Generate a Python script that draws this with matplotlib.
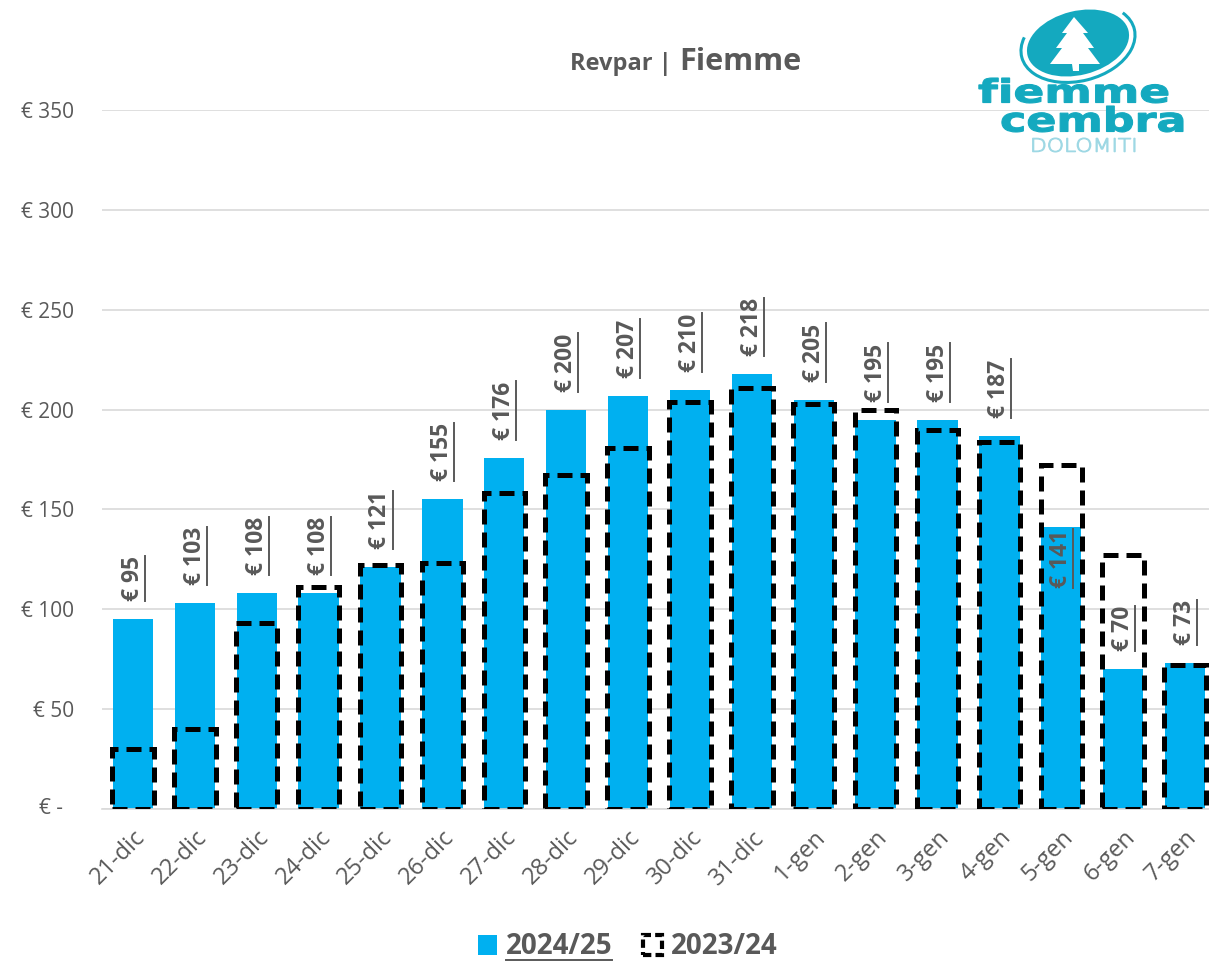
import matplotlib
matplotlib.use("Agg")
import matplotlib.pyplot as plt
from matplotlib.patches import Patch, Ellipse, Polygon, Arc, PathPatch
from matplotlib.lines import Line2D
from matplotlib.textpath import TextPath
from matplotlib.font_manager import FontProperties
from matplotlib.path import Path
import numpy as np

categories = ["21-dic", "22-dic", "23-dic", "24-dic", "25-dic", "26-dic", "27-dic", "28-dic",
              "29-dic", "30-dic", "31-dic", "1-gen", "2-gen", "3-gen", "4-gen", "5-gen",
              "6-gen", "7-gen"]
revpar_2425 = [95, 103, 108, 108, 121, 155, 176, 200, 207, 210, 218, 205, 195, 195, 187, 141, 70, 73]
revpar_2324 = [30, 40, 93, 111, 122, 123, 158, 167, 181, 204, 211, 203, 200, 190, 184, 172, 127, 72]
label_inside = [False] * 15 + [True, False, False]
yticks = [0, 50, 100, 150, 200, 250, 300, 350]
ytick_labels = ["", "€ 50", "€ 100", "€ 150", "€ 200", "€ 250", "€ 300", "€ 350"]
zero_label = "€ -"
series_names = ["2024/25", "2023/24"]

BLUE = "#00B0F0"
GRAY = "#595959"
TEAL = "#14A9BF"
plt.rcParams['font.family'] = ['Open Sans', 'DejaVu Sans']

fig = plt.figure(figsize=(12.09, 9.66), dpi=100)
ax = fig.add_axes([102/1209, (966-809)/966, 1114/1209, 699/966])

x = np.arange(len(categories))
ax.bar(x, revpar_2425, width=0.65, color=BLUE, zorder=2)
ax.bar(x, revpar_2324, width=0.67, facecolor="none", edgecolor="black",
       linewidth=3.6, linestyle=(0, (3, 1.6)), zorder=3)

ax.set_xlim(-0.5, len(categories) - 0.5)
ax.set_ylim(0, 350)
ax.set_yticks(yticks)
ax.set_yticklabels(ytick_labels, fontsize=15, color=GRAY)
ax.set_xticks(x)
ax.set_xticklabels(categories, rotation=45, ha="right", rotation_mode="anchor",
                   fontsize=17, color=GRAY)
ax.tick_params(axis="x", length=0, pad=12)
ax.tick_params(axis="y", length=0, pad=20)
ax.annotate(zero_label, xy=(0, 0), xycoords="axes fraction", xytext=(-28, 0),
            textcoords="offset points", ha="right", va="center", fontsize=15, color=GRAY)
ax.yaxis.grid(True, color="#D9D9D9", linewidth=1.2, zorder=0)
ax.set_axisbelow(True)
for s in ["top", "right", "left"]:
    ax.spines[s].set_visible(False)
ax.spines["bottom"].set_color("#D9D9D9")
ax.spines["bottom"].set_linewidth(1.2)

labels = []
for xi, v, inside in zip(x, revpar_2425, label_inside):
    if inside:
        t = ax.text(xi, v - 1, f"€ {v}", rotation=90, ha="center", va="top",
                    fontsize=16.5, fontweight="bold", color=GRAY, zorder=4)
    else:
        t = ax.text(xi, v + 9, f"€ {v}", rotation=90, ha="center", va="bottom",
                    fontsize=16.5, fontweight="bold", color=GRAY, zorder=4)
    labels.append(t)

# title
fig.text(672/1209, 1 - 70/966, "Revpar |", ha="right", va="baseline", fontsize=17,
         fontweight="bold", color=GRAY)
fig.text(679/1209, 1 - 70/966, "Fiemme", ha="left", va="baseline", fontsize=22,
         fontweight="bold", color=GRAY)

# legend
handles = [Patch(facecolor=BLUE, edgecolor="none"),
           Patch(facecolor="none", edgecolor="black", linewidth=3, linestyle=(0, (2, 1)))]
leg = fig.legend(handles, series_names, loc="center", bbox_to_anchor=(0.519, 19/966),
                 ncol=2, frameon=False, handlelength=0.7, handleheight=0.75,
                 handletextpad=0.3, columnspacing=1.1,
                 prop={"weight": "bold", "size": 20})
for t in leg.get_texts():
    t.set_color(GRAY)

# logo (drawn in a pixel-coordinate overlay)
lax = fig.add_axes([0, 0, 1, 1], zorder=5)
lax.set_xlim(0, 1209)
lax.set_ylim(966, 0)
lax.axis("off")
lax.patch.set_alpha(0)


def fit_text(s, x0, x1, ytop, ybot, color, weight="heavy"):
    tp = TextPath((0, 0), s, size=10, prop=FontProperties(family="DejaVu Sans", weight=weight))
    v = tp.vertices.copy()
    bx0, by0 = v.min(axis=0)
    bx1, by1 = v.max(axis=0)
    nv = np.empty_like(v)
    nv[:, 0] = x0 + (v[:, 0] - bx0) / (bx1 - bx0) * (x1 - x0)
    nv[:, 1] = ybot - (v[:, 1] - by0) / (by1 - by0) * (ybot - ytop)
    lax.add_patch(PathPatch(Path(nv, tp.codes), facecolor=color, edgecolor=color, lw=0.8))


lax.add_patch(Ellipse((1078, 43), 104, 64, angle=-14, facecolor=TEAL, edgecolor="none"))
lax.add_patch(Arc((1078, 43), 116, 76, angle=-14, theta1=-20, theta2=200,
                  color=TEAL, linewidth=2.2))
tree = [(1074, 17), (1062, 33), (1067, 33), (1056, 48), (1062, 48), (1050, 64),
        (1072, 64), (1073, 71), (1079, 71), (1079, 64), (1100, 64), (1088, 48),
        (1094, 48), (1083, 33), (1088, 33)]
lax.add_patch(Polygon(tree, closed=True, facecolor="white", edgecolor="none"))
fit_text("fiemme", 978, 1168, 78, 103, TEAL)
fit_text("cembra", 1000, 1183, 106, 132, TEAL)
fit_text("DOLOMITI", 1030, 1135, 138, 152, "#9ED8E4", weight="light")

# underlines for labels and first legend entry
fig.canvas.draw()
r = fig.canvas.get_renderer()
inv = fig.transFigure.inverted()
for t in labels:
    bb = t.get_window_extent(r)
    (x0, y0), (x1, y1) = inv.transform([(bb.x0, bb.y0), (bb.x1, bb.y1)])
    fig.add_artist(Line2D([x1, x1], [y0, y1], color=GRAY, linewidth=1.4))
bb = leg.get_texts()[0].get_window_extent(r)
(x0, y0), (x1, y1) = inv.transform([(bb.x0, bb.y0), (bb.x1, bb.y1)])
fig.add_artist(Line2D([x0, x1], [y0 + 0.002, y0 + 0.002], color=GRAY, linewidth=1.4))

fig.savefig("out.png", dpi=100)
